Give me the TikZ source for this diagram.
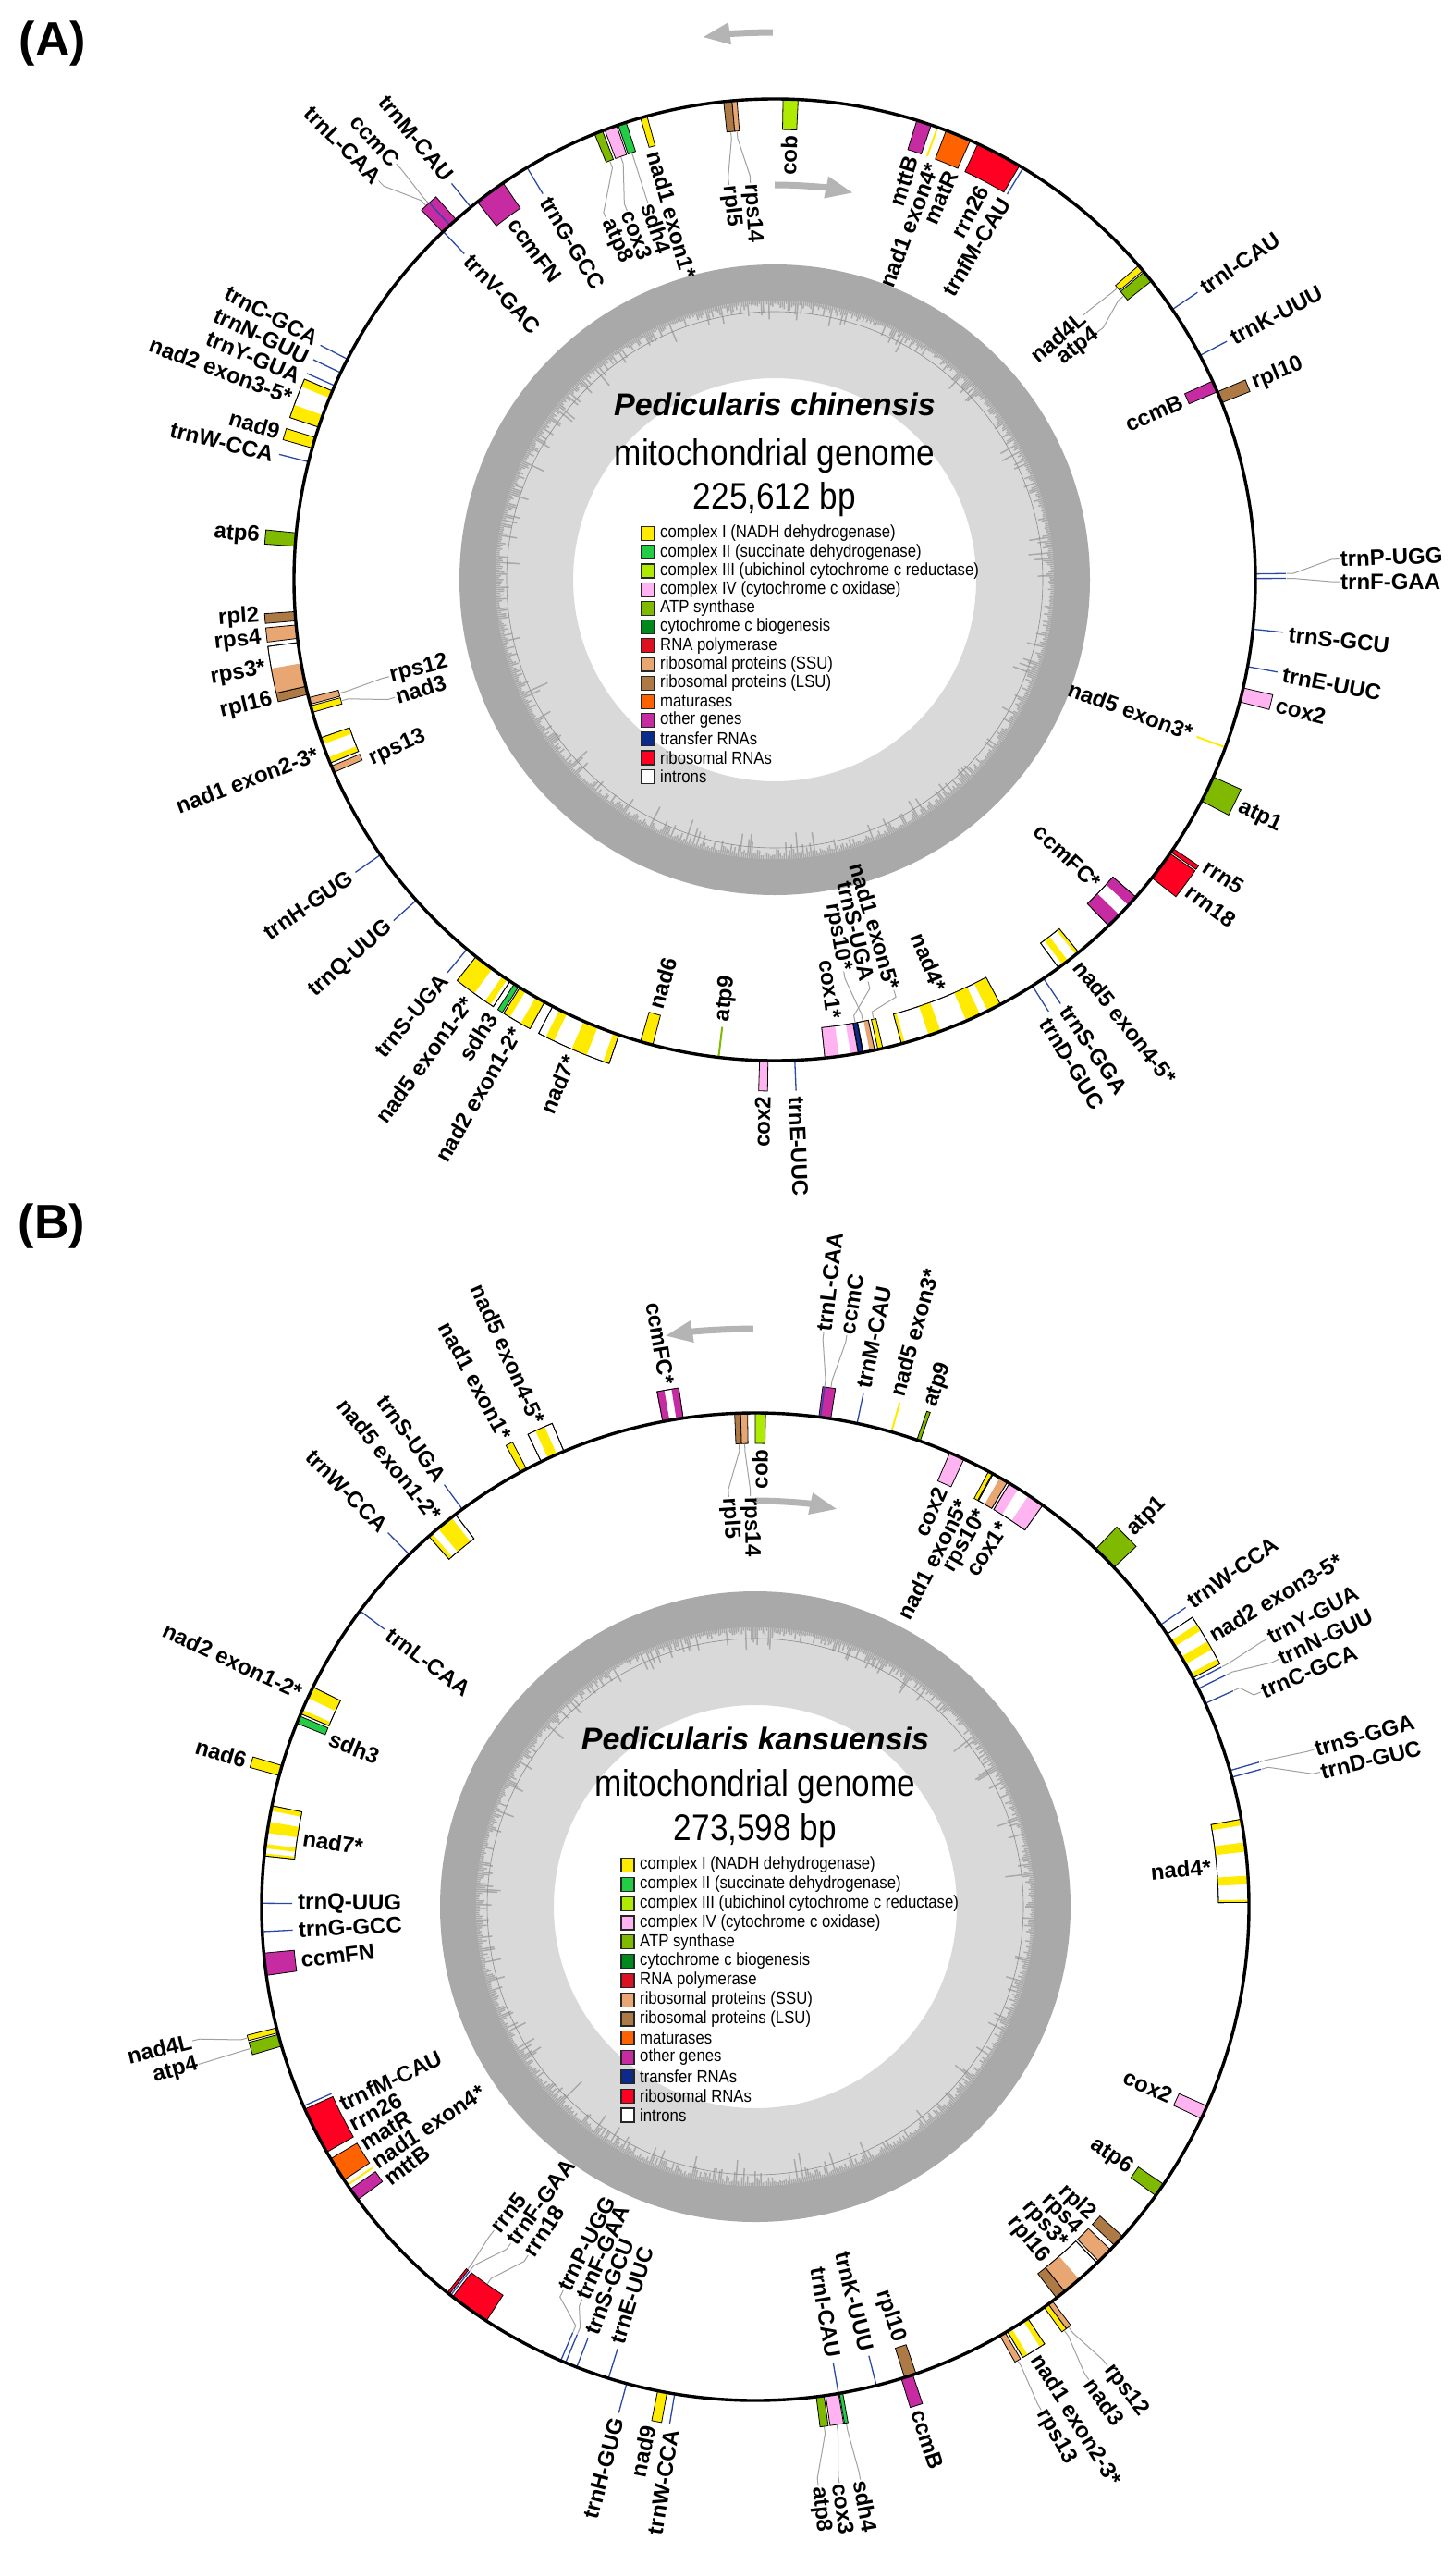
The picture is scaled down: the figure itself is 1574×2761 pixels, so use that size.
\documentclass[tikz,border=0pt]{standalone}
\usepackage{fontspec}
\setmainfont{Liberation Sans}
\newfontfamily\narrowfont[FakeStretch=0.88]{Liberation Sans}
\usetikzlibrary{arrows.meta}

\definecolor{cI}{HTML}{FFEB00}
\definecolor{cII}{HTML}{22CC44}
\definecolor{cIII}{HTML}{AEEB00}
\definecolor{cIV}{HTML}{FFB3F0}
\definecolor{atp}{HTML}{7FBA00}
\definecolor{ccm}{HTML}{008A1E}
\definecolor{rpo}{HTML}{DD1122}
\definecolor{ssu}{HTML}{E8A772}
\definecolor{lsu}{HTML}{AD7A45}
\definecolor{mat}{HTML}{FF6200}
\definecolor{oth}{HTML}{C62BA1}
\definecolor{trna}{HTML}{0B2B8A}
\definecolor{rrna}{HTML}{FF0022}
\definecolor{ringlight}{HTML}{D9D9D9}
\definecolor{ringdark}{HTML}{A9A9A9}
\definecolor{arrowgray}{HTML}{B4B4B4}
\definecolor{leadgray}{HTML}{A0A0A0}
\definecolor{trnablue}{HTML}{2A48A6}

\tikzset{
  gene/.style={draw=black, line width=0.8pt},
  trnaline/.style={draw=trnablue, line width=1.3pt},
  lead/.style={draw=leadgray, line width=1pt},
  glab/.style={font=\fontsize{24}{24}\selectfont\bfseries, inner sep=1pt},
  legbox/.style={draw=black!85, line width=1.2pt},
  legtext/.style={font=\narrowfont\fontsize{19}{19}\selectfont, inner sep=0pt},
  maptitle/.style={font=\fontsize{34}{34}\selectfont\bfseries\itshape},
  mapsub/.style={font=\narrowfont\fontsize{40}{40}\selectfont},
  panellab/.style={font=\fontsize{52}{52}\selectfont\bfseries},
  garrow/.style={draw=arrowgray, line width=7pt, -{Triangle[length=30pt, width=22pt]}},
  ringline/.style={draw=black!45, line width=0.6pt}
}

% gene box from angle #1 to #2 (clockwise from top), side #3 (1 out, -1 in)
\newcommand{\gbox}[4]{%
  \filldraw[gene, fill=#4] ({90-(#1)}:\R) arc[start angle={90-(#1)}, end angle={90-(#2)}, radius=\R]
    -- ({90-(#2)}:{\R+(#3)*\H}) arc[start angle={90-(#2)}, end angle={90-(#1)}, radius={\R+(#3)*\H}] -- cycle;}
\newcommand{\gfill}[4]{%
  \fill[#4] ({90-(#1)}:\R) arc[start angle={90-(#1)}, end angle={90-(#2)}, radius=\R]
    -- ({90-(#2)}:{\R+(#3)*\H}) arc[start angle={90-(#2)}, end angle={90-(#1)}, radius={\R+(#3)*\H}] -- cycle;}
\newcommand{\gframe}[3]{%
  \draw[gene] ({90-(#1)}:\R) arc[start angle={90-(#1)}, end angle={90-(#2)}, radius=\R]
    -- ({90-(#2)}:{\R+(#3)*\H}) arc[start angle={90-(#2)}, end angle={90-(#1)}, radius={\R+(#3)*\H}] -- cycle;}
\newcommand{\gline}[3]{\draw[#3, line width=2pt] ({90-(#1)}:\R) -- ({90-(#1)}:{\R+(#2)*\H});}
\newcommand{\gtrna}[2]{\draw[trnaline] ({90-(#1)}:\R) -- ({90-(#1)}:{\R+(#2)*\H});}
% label: name, angle, radial offset from the circle, text
\newcommand{\glab}[4]{%
  \pgfmathsetmacro\grot{(#2)<180 ? 90-(#2) : 270-(#2)}%
  \pgfmathtruncatemacro\gflag{((#2)<180)==((#3)>0) ? 1 : 0}%
  \ifnum\gflag=1 \def\ganc{west}\else\def\ganc{east}\fi
  \coordinate (#1-b) at ({90-(#2)}:{\R+(#3)});
  \node[glab, rotate=\grot, anchor=\ganc] (#1) at (#1-b) {#4};}
% leader: label name, gene angle, side, label angle, label offset
\newcommand{\glead}[5]{%
  \coordinate (#1-t) at ({90-(#2)}:{\R+(#3)*(\H+1)});
  \draw[lead] (#1-t) -- ({90-(#2)}:{\R+(#3)*(\H+8)}) -- ({90-(#4)}:{\R+(#5)-(#3)*8}) -- (#1-b);}
% GC content ring
\newcommand{\gcring}{%
  \fill[ringdark, even odd rule] (0,0) circle[radius=341] (0,0) circle[radius=302];
  \fill[ringlight, even odd rule] (0,0) circle[radius=302] (0,0) circle[radius=218];
  \foreach \a in {0,0.4,...,359.6}{
    \pgfmathsetmacro\spike{3+38*rnd*rnd*rnd}
    \draw[ringdark, line width=1.5pt] (\a:303) -- (\a:{302-\spike});
  }
  \draw[ringline] (0,0) circle[radius=290];}
% legend: prefix, x, first y, step
\newcommand{\maplegend}[4]{%
  \foreach \c/\t [count=\i from 0] in {cI/complex I (NADH dehydrogenase), cII/complex II (succinate dehydrogenase),
      cIII/complex III (ubichinol cytochrome c reductase), cIV/complex IV (cytochrome c oxidase),
      atp/ATP synthase, ccm/cytochrome c biogenesis, rpo/RNA polymerase, ssu/ribosomal proteins (SSU),
      lsu/ribosomal proteins (LSU), mat/maturases, oth/other genes, trna/transfer RNAs,
      rrna/ribosomal RNAs, white/introns}{
    \pgfmathsetmacro\ly{#3-#4*\i}
    \filldraw[legbox, fill=\c] (#2,\ly-7.5) rectangle ++(14,15);
    \node[legtext, anchor=west] (#1-\i) at (#2+20,\ly) {\t};
  }}

\begin{document}
\begin{tikzpicture}[x=1pt, y=1pt]
\useasboundingbox (0,0) rectangle (1574,-2761);
\pgfmathsetseed{7}

\node[panellab] (labA) at (57,-47) {(A)};
\node[panellab] (labB) at (56,-1326) {(B)};

% ---------------- (A) Pedicularis chinensis ----------------
\begin{scope}[shift={(838,-627)}]
\def\R{520}\def\H{33}
\gcring
\node[maptitle] (titleA) at (0,190) {Pedicularis chinensis};
\node[mapsub] (subA) at (0,134) {mitochondrial genome};
\node[mapsub] (sizeA) at (0,87) {225,612 bp};
\maplegend{lgA}{-144}{50}{20.2}

\draw[garrow] (90.2:592) arc[start angle=90.2, end angle=97.6, radius=592];
\draw[garrow] (90:427) arc[start angle=90, end angle=78.5, radius=427];

% top
\gbox{353.9}{354.9}{-1}{lsu} \gbox{354.9}{355.5}{-1}{ssu}
\glab{a-rpl5}{353.4}{-90}{rpl5} \glead{a-rpl5}{354.4}{-1}{353.4}{-90}
\glab{a-rps14}{356.5}{-90}{rps14} \glead{a-rps14}{355.2}{-1}{356.5}{-90}
\gbox{1.0}{2.8}{-1}{cIII} \glab{a-cob}{1.9}{-38}{cob}
\gbox{17.2}{19.0}{-1}{oth} \glab{a-mttB}{18.0}{-38}{mttB}
\gline{19.8}{-1}{cI} \glab{a-nad1e4}{20.8}{-38}{nad1 exon4*}
\gbox{20.9}{24.0}{-1}{mat} \glab{a-matR}{23.5}{-38}{matR}
\gbox{25.0}{30.6}{-1}{rrna} \glab{a-rrn26}{28.0}{-38}{rrn26}
\gtrna{31.1}{-1} \glab{a-trnfM}{31.2}{-38}{trnfM-CAU}
\gbox{49.2}{50.0}{-1}{cI} \gbox{50.2}{51.6}{-1}{atp}
\glab{a-nad4L}{49.4}{-80}{nad4L} \glead{a-nad4L}{49.6}{-1}{49.4}{-80}
\glab{a-atp4}{52.5}{-80}{atp4} \glead{a-atp4}{50.9}{-1}{52.5}{-80}
\gtrna{55.8}{1} \glab{a-trnI}{55.8}{38}{trnI-CAU}
\gtrna{62.2}{1} \glab{a-trnK}{62.2}{38}{trnK-UUU}
\gbox{65.6}{67.0}{-1}{oth} \glab{a-ccmB}{66.3}{-38}{ccmB}
\gbox{67.0}{68.4}{1}{lsu} \glab{a-rpl10}{67.7}{38}{rpl10}
% right
\gtrna{89.3}{1} \glab{a-trnP}{87.9}{91}{trnP-UGG} \glead{a-trnP}{89.3}{1}{87.9}{91}
\gtrna{89.85}{1} \glab{a-trnF}{90.2}{91}{trnF-GAA} \glead{a-trnF}{89.85}{1}{90.2}{91}
\gtrna{95.9}{1} \glab{a-trnS1}{96.1}{38}{trnS-GCU}
\gtrna{100.4}{1} \glab{a-trnE1}{100.6}{38}{trnE-UUC}
\gbox{103.0}{104.7}{1}{cIV} \glab{a-cox2a}{104.0}{38}{cox2}
\gline{110.4}{-1}{cI} \glab{a-nad5e3}{110.2}{-38}{nad5 exon3*}
\gbox{114.2}{117.4}{1}{atp} \glab{a-atp1}{116.0}{38}{atp1}
\gbox{124.0}{124.5}{1}{rrna} \glab{a-rrn5}{123.5}{38}{rrn5}
\gbox{124.7}{128.3}{1}{rrna} \glab{a-rrn18}{126.8}{38}{rrn18}
\gbox{131.3}{136.0}{-1}{white} \gfill{131.3}{132.6}{-1}{oth} \gfill{134.2}{136.0}{-1}{oth} \gframe{131.3}{136.0}{-1}
\glab{a-ccmFC}{133.4}{-38}{ccmFC*}
\gbox{140.8}{143.8}{-1}{white} \gfill{140.8}{141.2}{-1}{cI} \gfill{142.4}{143.2}{-1}{cI} \gframe{140.8}{143.8}{-1}
\glab{a-nad5e45}{141.6}{8}{nad5 exon4-5*}
\gtrna{146.0}{1} \glab{a-trnS2}{145.8}{38}{trnS-GGA}
\gtrna{147.6}{1} \glab{a-trnD}{148.4}{38}{trnD-GUC}
% bottom
\gbox{152.0}{164.7}{-1}{white} \gfill{152.0}{153.7}{-1}{cI} \gfill{154.7}{156.5}{-1}{cI}
\gfill{159.8}{161.3}{-1}{cI} \gfill{164.3}{164.7}{-1}{cI} \gframe{152.0}{164.7}{-1}
\glab{a-nad4}{158.0}{-40}{nad4*}
\gbox{167.0}{167.6}{-1}{cI}
\gbox{168.0}{169.4}{-1}{white} \gfill{168.0}{168.6}{-1}{ssu} \gframe{168.0}{169.4}{-1}
\gbox{169.45}{169.95}{-1}{trna}
\gbox{170.0}{174.0}{-1}{white} \gfill{172.3}{174.0}{-1}{cIV} \gfill{170.0}{170.9}{-1}{cIV} \gframe{170.0}{174.0}{-1}
\glab{a-cox1}{172.3}{-40}{cox1*}
\glab{a-rps10}{170.0}{-90}{rps10*} \glead{a-rps10}{168.7}{-1}{170.0}{-90}
\glab{a-trnS3}{166.9}{-74}{trnS-UGA} \glead{a-trnS3}{169.7}{-1}{166.9}{-74}
\glab{a-nad1e5}{163.8}{-58}{nad1 exon5*} \glead{a-nad1e5}{167.3}{-1}{163.8}{-58}
\gtrna{177.6}{1} \glab{a-trnE2}{177.6}{38}{trnE-UUC}
\gbox{180.8}{181.8}{1}{cIV} \glab{a-cox2b}{181.3}{38}{cox2}
\gline{186.7}{-1}{atp} \glab{a-atp9}{186.7}{-38}{atp9}
\gbox{194.7}{196.2}{-1}{cI} \glab{a-nad6}{195.5}{-38}{nad6}
\gbox{198.9}{207.5}{1}{white} \gfill{199.0}{199.6}{1}{cI} \gfill{201.6}{203.4}{1}{cI} \gfill{205.6}{206.6}{1}{cI} \gframe{198.9}{207.5}{1}
\glab{a-nad7}{203.2}{40}{nad7*}
\gbox{208.6}{212.0}{1}{white} \gfill{208.6}{209.8}{1}{cI} \gfill{211.2}{212.0}{1}{cI} \gframe{208.6}{212.0}{1}
\glab{a-nad2e12}{209.9}{40}{nad2 exon1-2*}
\gbox{212.2}{212.8}{1}{cII} \glab{a-sdh3}{213.0}{40}{sdh3}
\gbox{213.4}{218.4}{1}{white} \gfill{213.8}{214.5}{1}{cI} \gfill{216.0}{218.4}{1}{cI} \gframe{213.4}{218.4}{1}
\glab{a-nad5e12}{216.1}{40}{nad5 exon1-2*}
% left
\gtrna{219.8}{1} \glab{a-trnS4}{219.8}{38}{trnS-UGA}
\gtrna{228.2}{1} \glab{a-trnQ}{228.2}{38}{trnQ-UUG}
\gtrna{235.1}{1} \glab{a-trnH}{235.1}{38}{trnH-GUG}
\gbox{246.4}{247.2}{-1}{ssu} \glab{a-rps13}{246.0}{-40}{rps13}
\gbox{247.6}{250.8}{-1}{white} \gfill{247.6}{248.3}{-1}{cI} \gfill{250.0}{250.8}{-1}{cI} \gframe{247.6}{250.8}{-1}
\glab{a-nad1e23}{249.2}{8}{nad1 exon2-3*}
\gbox{254.0}{254.8}{-1}{cI} \gbox{255.0}{255.8}{-1}{ssu}
\glab{a-rps12}{255.9}{-90}{rps12} \glead{a-rps12}{255.4}{-1}{255.9}{-90}
\glab{a-nad3}{252.8}{-90}{nad3} \glead{a-nad3}{254.4}{-1}{252.8}{-90}
\gbox{256.2}{257.2}{1}{lsu} \glab{a-rpl16}{256.6}{38}{rpl16}
\gbox{257.2}{262.5}{1}{white} \gfill{257.2}{260.0}{1}{ssu} \gframe{257.2}{262.5}{1}
\glab{a-rps3}{260.1}{38}{rps3*}
\gbox{263.0}{264.6}{1}{ssu} \glab{a-rps4}{263.5}{38}{rps4}
\gbox{265.1}{266.2}{1}{lsu} \glab{a-rpl2}{266.0}{38}{rpl2}
\gbox{274.0}{275.6}{1}{atp} \glab{a-atp6}{274.8}{38}{atp6}
\gtrna{284.2}{1} \glab{a-trnW}{284.0}{38}{trnW-CCA}
\gbox{285.9}{287.2}{1}{cI} \glab{a-nad9}{286.6}{38}{nad9}
\gbox{288.5}{293.1}{1}{white} \gfill{288.5}{290.0}{1}{cI} \gfill{292.2}{293.1}{1}{cI} \gframe{288.5}{293.1}{1}
\glab{a-nad2e35}{290.7}{38}{nad2 exon3-5*}
\gtrna{293.8}{1} \glab{a-trnY}{293.1}{38}{trnY-GUA}
\gtrna{295.5}{1} \glab{a-trnN}{295.4}{38}{trnN-GUU}
\gtrna{297.3}{1} \glab{a-trnC}{297.7}{38}{trnC-GCA}
% upper left
\gbox{316.3}{318.5}{1}{oth} \gtrna{317.5}{1}
\glab{a-ccmC}{317.7}{88}{ccmC} \glead{a-ccmC}{317.4}{1}{317.7}{88}
\glab{a-trnL}{315.2}{88}{trnL-CAA} \glead{a-trnL}{317.0}{1}{315.2}{88}
\gtrna{316.4}{-1} \glab{a-trnV}{316.4}{-38}{trnV-GAC}
\gtrna{320.8}{1} \glab{a-trnM}{320.9}{38}{trnM-CAU}
\gbox{321.8}{325.6}{-1}{oth} \glab{a-ccmFN}{323.9}{-38}{ccmFN}
\gtrna{329.0}{-1} \glab{a-trnG}{329.0}{-38}{trnG-GCC}
\gbox{338.0}{339.0}{-1}{atp} \gbox{339.3}{340.8}{-1}{cIV} \gbox{341.0}{342.0}{-1}{cII} \gbox{343.8}{344.6}{-1}{cI}
\glab{a-nad1e1}{344.3}{-38}{nad1 exon1*}
\glab{a-sdh4}{341.4}{-90}{sdh4} \glead{a-sdh4}{341.5}{-1}{341.4}{-90}
\glab{a-cox3}{338.2}{-90}{cox3} \glead{a-cox3}{340.0}{-1}{338.2}{-90}
\glab{a-atp8}{335.0}{-90}{atp8} \glead{a-atp8}{338.5}{-1}{335.0}{-90}

\draw[line width=3.4pt] (0,0) circle[radius=\R];
\end{scope}

% ---------------- (B) Pedicularis kansuensis ----------------
\begin{scope}[shift={(817,-2062)}]
\def\R{534}\def\H{33}
\gcring
\node[maptitle] (titleB) at (0,182) {Pedicularis kansuensis};
\node[mapsub] (subB) at (0,130) {mitochondrial genome};
\node[mapsub] (sizeB) at (0,82) {273,598 bp};
\maplegend{lgB}{-145}{45}{20.8}

\draw[garrow] (90.2:625) arc[start angle=90.2, end angle=99.0, radius=625];
\draw[garrow] (90:439) arc[start angle=90, end angle=78.3, radius=439];

% top
\gbox{357.6}{358.3}{-1}{lsu} \gbox{358.3}{359.1}{-1}{ssu}
\glab{b-rpl5}{356.3}{-90}{rpl5} \glead{b-rpl5}{358.0}{-1}{356.3}{-90}
\glab{b-rps14}{359.3}{-90}{rps14} \glead{b-rps14}{358.7}{-1}{359.3}{-90}
\gbox{0.0}{1.2}{-1}{cIII} \glab{b-cob}{0.6}{-38}{cob}
\gbox{7.4}{8.8}{1}{oth} \gtrna{7.6}{1}
\glab{b-trnL1}{6.8}{92}{trnL-CAA} \glead{b-trnL1}{7.6}{1}{6.8}{92}
\glab{b-ccmC}{9.1}{92}{ccmC} \glead{b-ccmC}{8.3}{1}{9.1}{92}
\gtrna{11.9}{1} \glab{b-trnM}{11.8}{38}{trnM-CAU}
\gline{16.0}{1}{cI} \glab{b-nad5e3}{15.5}{38}{nad5 exon3*}
\gbox{19.1}{19.5}{1}{atp} \glab{b-atp9}{19.3}{38}{atp9}
\gbox{23.2}{25.0}{-1}{cIV} \glab{b-cox2a}{24.0}{-38}{cox2}
\gbox{28.2}{28.7}{-1}{cI}
\gbox{28.8}{30.7}{-1}{white} \gfill{29.7}{30.7}{-1}{ssu} \gframe{28.8}{30.7}{-1}
\gbox{31.0}{35.6}{-1}{white} \gfill{31.0}{32.2}{-1}{cIV} \gfill{33.6}{35.6}{-1}{cIV} \gframe{31.0}{35.6}{-1}
\glab{b-nad1e5}{27.1}{-40}{nad1 exon5*}
\glab{b-rps10}{30.0}{-40}{rps10*}
\glab{b-cox1}{33.0}{-40}{cox1*}
\gbox{43.6}{46.6}{1}{atp} \glab{b-atp1}{45.1}{38}{atp1}
% right
\gtrna{55.2}{1} \glab{b-trnW1}{55.0}{38}{trnW-CCA}
\gbox{56.5}{62.4}{1}{white} \gfill{57.4}{58.2}{1}{cI} \gfill{59.6}{60.6}{1}{cI} \gfill{61.8}{62.4}{1}{cI} \gframe{56.5}{62.4}{1}
\glab{b-nad2e35}{59.3}{38}{nad2 exon3-5*}
\gtrna{62.8}{1} \glab{b-trnY}{62.4}{92}{trnY-GUA} \glead{b-trnY}{62.8}{1}{62.4}{92}
\gtrna{63.8}{1} \glab{b-trnN}{64.7}{92}{trnN-GUU} \glead{b-trnN}{63.8}{1}{64.7}{92}
\gtrna{65.7}{1} \glab{b-trnC}{67.0}{60}{trnC-GCA} \glead{b-trnC}{65.7}{1}{67.0}{60}
\gtrna{74.0}{1} \glab{b-trnS1}{74.3}{94}{trnS-GGA} \glead{b-trnS1}{74.0}{1}{74.3}{94}
\gtrna{74.8}{1} \glab{b-trnD}{76.6}{94}{trnD-GUC} \glead{b-trnD}{74.8}{1}{76.6}{94}
\gbox{79.8}{89.5}{-1}{white} \gfill{79.8}{80.5}{-1}{cI} \gfill{82.5}{83.6}{-1}{cI}
\gfill{86.4}{87.4}{-1}{cI} \gfill{89.2}{89.5}{-1}{cI} \gframe{79.8}{89.5}{-1}
\glab{b-nad4}{85.0}{-38}{nad4*}
\gbox{113.8}{115.4}{-1}{cIV} \glab{b-cox2b}{114.6}{-38}{cox2}
\gbox{124.2}{125.8}{-1}{atp} \glab{b-atp6}{125.0}{-38}{atp6}
% lower right
\gbox{131.9}{133.3}{-1}{lsu} \glab{b-rpl2}{132.6}{-38}{rpl2}
\gbox{134.0}{135.9}{-1}{ssu} \glab{b-rps4}{135.1}{-38}{rps4}
\gbox{136.2}{141.2}{-1}{white} \gfill{139.0}{141.2}{-1}{ssu} \gframe{136.2}{141.2}{-1}
\glab{b-rps3}{137.7}{-38}{rps3*}
\gbox{141.2}{142.4}{-1}{lsu} \glab{b-rpl16}{140.6}{-38}{rpl16}
\gbox{143.0}{143.6}{1}{ssu} \gbox{143.6}{144.2}{1}{cI}
\glab{b-rps12}{142.5}{92}{rps12} \glead{b-rps12}{143.3}{1}{142.5}{92}
\glab{b-nad3}{144.8}{92}{nad3} \glead{b-nad3}{143.9}{1}{144.8}{92}
\gbox{146.5}{149.3}{1}{white} \gfill{146.5}{147.1}{1}{cI} \gfill{148.7}{149.3}{1}{cI} \gframe{146.5}{149.3}{1}
\glab{b-nad1e23}{147.9}{38}{nad1 exon2-3*}
\gbox{149.6}{150.3}{1}{ssu} \glab{b-rps13}{150.4}{92}{rps13} \glead{b-rps13}{149.95}{1}{150.4}{92}
\gbox{161.0}{162.4}{-1}{lsu} \glab{b-rpl10}{161.7}{-38}{rpl10}
\gbox{161.4}{162.8}{1}{oth} \glab{b-ccmB}{162.1}{38}{ccmB}
\gtrna{165.8}{-1} \glab{b-trnK}{165.9}{-38}{trnK-UUU}
\gtrna{170.3}{-1} \glab{b-trnI}{170.2}{-38}{trnI-CAU}
\gbox{169.8}{170.2}{1}{cII} \gbox{170.3}{171.8}{1}{cIV} \gbox{172.0}{172.9}{1}{atp}
\glab{b-sdh4}{169.6}{96}{sdh4} \glead{b-sdh4}{170.0}{1}{169.6}{96}
\glab{b-cox3}{171.7}{96}{cox3} \glead{b-cox3}{171.05}{1}{171.7}{96}
\glab{b-atp8}{173.8}{96}{atp8} \glead{b-atp8}{172.45}{1}{173.8}{96}
% bottom left
\gtrna{189.4}{1} \glab{b-trnW2}{189.1}{38}{trnW-CCA}
\gbox{190.3}{191.4}{1}{cI} \glab{b-nad9}{191.6}{38}{nad9}
\gtrna{195.1}{1} \glab{b-trnH}{195.1}{38}{trnH-GUG}
\gtrna{197.3}{-1} \glab{b-trnE}{197.6}{-38}{trnE-UUC}
\gtrna{201.2}{-1} \glab{b-trnS2}{201.0}{-38}{trnS-GCU}
\gtrna{202.6}{-1} \glab{b-trnF1}{203.8}{-70}{trnF-GAA} \glead{b-trnF1}{202.6}{-1}{203.8}{-70}
\gtrna{203.2}{-1} \glab{b-trnP}{206.6}{-70}{trnP-UGG} \glead{b-trnP}{203.2}{-1}{206.6}{-70}
\gbox{213.0}{217.8}{-1}{rrna} \gtrna{218.1}{-1} \gbox{218.3}{218.6}{-1}{rrna}
\glab{b-rrn18}{213.1}{-84}{rrn18} \glead{b-rrn18}{215.4}{-1}{213.1}{-84}
\glab{b-trnF2}{216.0}{-84}{trnF-GAA} \glead{b-trnF2}{218.1}{-1}{216.0}{-84}
\glab{b-rrn5}{218.9}{-84}{rrn5} \glead{b-rrn5}{218.45}{-1}{218.9}{-84}
\gbox{233.6}{235.1}{-1}{oth} \glab{b-mttB}{233.4}{-36}{mttB}
\gline{235.7}{-1}{cI} \glab{b-nad1e4}{236.1}{-36}{nad1 exon4*}
\gbox{236.4}{239.3}{-1}{mat} \glab{b-matR}{238.8}{-36}{matR}
\gbox{240.2}{245.8}{-1}{rrna} \glab{b-rrn26}{241.6}{-36}{rrn26}
\gtrna{246.2}{-1} \glab{b-trnfM}{244.5}{-36}{trnfM-CAU}
% left
\gbox{253.6}{255.0}{1}{atp} \gbox{255.2}{255.8}{1}{cI}
\glab{b-nad4L}{256.6}{92}{nad4L} \glead{b-nad4L}{255.5}{1}{256.6}{92}
\glab{b-atp4}{254.2}{92}{atp4} \glead{b-atp4}{254.3}{1}{254.2}{92}
\gbox{262.0}{264.6}{-1}{oth} \glab{b-ccmFN}{263.3}{-38}{ccmFN}
\gtrna{267.1}{-1} \glab{b-trnG}{267.1}{-38}{trnG-GCC}
\gtrna{270.4}{-1} \glab{b-trnQ}{270.4}{-38}{trnQ-UUG}
\gbox{275.9}{281.8}{-1}{white} \gfill{281.2}{281.8}{-1}{cI} \gfill{278.6}{279.9}{-1}{cI}
\gfill{276.8}{277.3}{-1}{cI} \gfill{275.9}{276.2}{-1}{cI} \gframe{275.9}{281.8}{-1}
\glab{b-nad7}{278.6}{-38}{nad7*}
\gbox{285.4}{286.6}{1}{cI} \glab{b-nad6}{286.0}{38}{nad6}
\gbox{291.8}{292.7}{-1}{cII} \glab{b-sdh3}{291.6}{-38}{sdh3}
\gbox{293.0}{296.4}{-1}{white} \gfill{295.0}{296.4}{-1}{cI} \gfill{293.0}{293.5}{-1}{cI} \gframe{293.0}{296.4}{-1}
\glab{b-nad2e12}{295.2}{8}{nad2 exon1-2*}
% upper left
\gtrna{306.8}{-1} \glab{b-trnL2}{306.8}{-38}{trnL-CAA}
\gtrna{315.5}{1} \glab{b-trnW3}{315.5}{38}{trnW-CCA}
\gbox{318.6}{322.6}{-1}{white} \gfill{320.0}{322.0}{-1}{cI} \gfill{318.6}{319.1}{-1}{cI} \gframe{318.6}{322.6}{-1}
\glab{b-nad5e12}{320.7}{8}{nad5 exon1-2*}
\gtrna{323.6}{1} \glab{b-trnS3}{323.7}{38}{trnS-UGA}
\gbox{331.6}{332.4}{1}{cI} \glab{b-nad1e1}{332.0}{38}{nad1 exon1*}
\gbox{334.3}{337.2}{1}{white} \gfill{335.2}{336.3}{1}{cI} \gframe{334.3}{337.2}{1}
\glab{b-nad5e45}{335.9}{38}{nad5 exon4-5*}
\gbox{349.2}{351.6}{1}{white} \gfill{349.2}{350.0}{1}{oth} \gfill{350.8}{351.6}{1}{oth} \gframe{349.2}{351.6}{1}
\glab{b-ccmFC}{350.4}{38}{ccmFC*}

\draw[line width=3.4pt] (0,0) circle[radius=\R];
\end{scope}
\end{tikzpicture}
\end{document}
